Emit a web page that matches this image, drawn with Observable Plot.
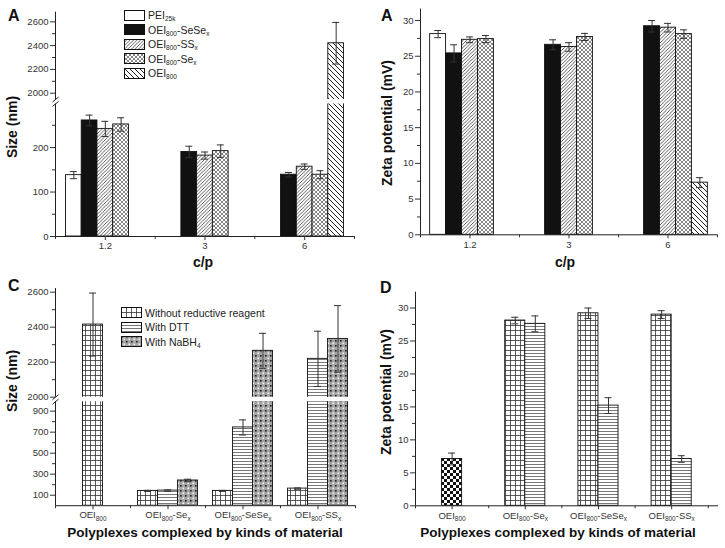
<!DOCTYPE html>
<html><head><meta charset="utf-8">
<script src="https://cdn.jsdelivr.net/npm/d3@7"></script>
<script src="https://cdn.jsdelivr.net/npm/@observablehq/plot@0.6"></script>
<style>
body{margin:0;background:#fff;}
#root{position:relative;width:725px;height:548px;overflow:hidden;font-family:"Liberation Sans",Arial,sans-serif;background:#fff;}
.panel{position:absolute;}
.letter{position:absolute;font-weight:bold;font-size:16px;line-height:1;color:#111;}
.ytitle{position:absolute;font-weight:bold;font-size:14px;line-height:1;color:#111;transform:translate(-50%,-50%) rotate(-90deg);white-space:nowrap;}
.xtitle{position:absolute;font-weight:bold;line-height:1;color:#111;transform:translate(-50%,-50%);white-space:nowrap;}
.legend{position:absolute;font-size:10.5px;color:#222;}
.legend .row{display:flex;align-items:center;height:14.5px;white-space:nowrap;}
.legend svg{margin-right:3px;flex:none;}
.legend sub{font-size:6.5px;vertical-align:-2px;line-height:0;}
</style>
</head><body>
<svg width="0" height="0" style="position:absolute">
<defs>
<pattern id="p-ss" patternUnits="userSpaceOnUse" width="3.5" height="3.5"><rect width="3.5" height="3.5" fill="#fff"/><path d="M-1,1 L1,-1 M0,3.5 L3.5,0 M2.5,4.5 L4.5,2.5" stroke="#333" stroke-width="0.8"/></pattern>
<pattern id="p-se" patternUnits="userSpaceOnUse" width="4" height="4"><rect width="4" height="4" fill="#fff"/><path d="M0,0 L4,4 M0,4 L4,0" stroke="#666" stroke-width="0.8"/></pattern>
<pattern id="p-oei" patternUnits="userSpaceOnUse" width="5" height="5"><rect width="5" height="5" fill="#fff"/><path d="M0,0 L5,5 M-1,4 L1,6 M4,-1 L6,1" stroke="#222" stroke-width="1"/></pattern>
<pattern id="p-grid" patternUnits="userSpaceOnUse" width="5" height="5"><rect width="5" height="5" fill="#fff"/><path d="M0,0.5 H5 M0.5,0 V5" stroke="#333" stroke-width="0.8"/></pattern>
<pattern id="p-hl" patternUnits="userSpaceOnUse" width="3" height="3"><rect width="3" height="3" fill="#fff"/><path d="M0,0.5 H3" stroke="#555" stroke-width="0.8"/></pattern>
<pattern id="p-nabh" patternUnits="userSpaceOnUse" width="5" height="5"><rect width="5" height="5" fill="#a4a4a4"/><rect width="1.6" height="1.6" fill="#222"/><rect x="2.5" y="2.5" width="1.6" height="1.6" fill="#f4f4f4"/></pattern>
<pattern id="p-check" patternUnits="userSpaceOnUse" width="6" height="6"><rect width="6" height="6" fill="#fff"/><rect width="3" height="3" fill="#111"/><rect x="3" y="3" width="3" height="3" fill="#111"/></pattern>
</defs>
</svg>
<div id="root"></div>
<script>
// ---------------- DATA ----------------
// Panels A & B: grouped by c/p ratio
const cpGroups = ["1.2", "3", "6"];
const seriesAB = ["PEI_25k", "OEI_800-SeSe_x", "OEI_800-SS_x", "OEI_800-Se_x", "OEI_800"];
// Panel A: particle size (nm); null = not measured
const sizeA_PEI25k = [138, null, null];
const sizeA_SeSe   = [261, 190, 139];
const sizeA_SS     = [242, 182, 157];
const sizeA_Se     = [252, 192, 139];
const sizeA_OEI800 = [null, null, 2420];
const errA_PEI25k  = [8, null, null];
const errA_SeSe    = [12, 13, 5];
const errA_SS      = [17, 8, 6];
const errA_Se      = [15, 14, 9];
const errA_OEI800  = [null, null, 175];
// Panel B: zeta potential (mV)
const zetaB_PEI25k = [28.1, null, null];
const zetaB_SeSe   = [25.4, 26.6, 29.2];
const zetaB_SS     = [27.3, 26.3, 29.0];
const zetaB_Se     = [27.4, 27.7, 28.1];
const zetaB_OEI800 = [null, null, 7.3];
const errB_PEI25k  = [0.5, null, null];
const errB_SeSe    = [1.2, 0.7, 0.8];
const errB_SS      = [0.4, 0.6, 0.6];
const errB_Se      = [0.5, 0.5, 0.6];
const errB_OEI800  = [null, null, 0.7];

// Panels C & D: grouped by material
const materials = ["OEI_800", "OEI_800-Se_x", "OEI_800-SeSe_x", "OEI_800-SS_x"];
const seriesCD = ["Without reductive reagent", "With DTT", "With NaBH_4", "OEI_800 control"];
// Panel C: size (nm)
const sizeC_without = [2415, 141, 141, 163];
const sizeC_DTT     = [null, 144, 745, 2219];
const sizeC_NaBH4   = [null, 240, 2265, 2333];
const errC_without  = [180, 5, 5, 6];
const errC_DTT      = [null, 6, 72, 158];
const errC_NaBH4    = [null, 12, 100, 190];
// Panel D: zeta potential (mV)
const zetaD_control = [7.1, null, null, null];
const zetaD_without = [null, 28.1, 29.2, 29.0];
const zetaD_DTT     = [null, 27.6, 15.2, 7.1];
const errD_control  = [0.9, null, null, null];
const errD_without  = [null, 0.5, 0.8, 0.6];
const errD_DTT      = [null, 1.2, 1.2, 0.5];

// Tick values
const ticksA = [0, 100, 200, 2000, 2200, 2400, 2600];
const minorA = [50, 150, 250, 2100, 2300, 2500];
const ticksB = [0, 5, 10, 15, 20, 25, 30];
const minorB = [2.5, 7.5, 12.5, 17.5, 22.5, 27.5];
const ticksC = [100, 300, 500, 700, 900, 2000, 2200, 2400, 2600];
const minorC = [200, 400, 600, 800, 2100, 2300, 2500];
const ticksD = [0, 5, 10, 15, 20, 25, 30];
const minorD = [2.5, 7.5, 12.5, 17.5, 22.5, 27.5];

// ---------------- STYLES ----------------
const fills = {
  "PEI_25k": "#ffffff",
  "OEI_800-SeSe_x": "#111111",
  "OEI_800-SS_x": "url(#p-ss)",
  "OEI_800-Se_x": "url(#p-se)",
  "OEI_800": "url(#p-oei)",
  "Without reductive reagent": "url(#p-grid)",
  "With DTT": "url(#p-hl)",
  "With NaBH_4": "url(#p-nabh)",
  "OEI_800 control": "url(#p-check)"
};
// axis-break mark "/" drawn as a custom dot symbol
const slashSymbol = {draw(ctx) { ctx.moveTo(-3, 2.5); ctx.lineTo(3, -2.5); }};

function makeRows(groups, series, values, errors) {
  const rows = [];
  groups.forEach((g, gi) => {
    series.forEach((s, si) => {
      const v = values[si] ? values[si][gi] : null;
      if (v == null) return;
      rows.push({g: gi, s: si, series: s, value: v, err: errors[si][gi]});
    });
  });
  return rows;
}
function layout(rows, nSlots, w, mode) {
  for (const [g, rs] of d3.group(rows, d => d.g)) {
    rs.forEach((r, k) => {
      const idx = mode === "slots" ? r.s : k;
      const n = mode === "slots" ? nSlots : rs.length;
      r.x1 = g + (idx - n / 2) * w;
      r.x2 = r.x1 + w;
      r.xc = (r.x1 + r.x2) / 2;
    });
  }
  return rows;
}

function subscriptify(svg) {
  d3.select(svg).selectAll("text").each(function() {
    const t = this.textContent;
    if (!t.includes("_")) return;
    const parts = t.split(/_([0-9A-Za-z]+)/);
    const sel = d3.select(this);
    sel.text(null);
    let shifted = false;
    parts.forEach((p, i) => {
      if (!p) return;
      const ts = sel.append("tspan").text(p);
      if (i % 2 === 1) { ts.attr("font-size", "6.5px").attr("dy", shifted ? 0 : 2.5); shifted = true; }
      else { if (shifted) ts.attr("dy", -2.5); shifted = false; }
    });
  });
}

// A panel may have several y segments (broken axis): each segment is its own Plot chart,
// stacked at the same place; bars are clipped to each segment's frame.
function panel(o) {
  const rows = o.rows;
  const x0 = o.xDomain[0];
  const nSeg = o.segments.length;
  o.segments.forEach((seg, i) => {
    const [lo, hi] = seg.domain;
    const [bottomPx, topPx] = seg.range;
    const inSeg = v => v >= lo && v <= hi;
    const bars = rows.filter(d => d.value > lo);
    const er = rows.filter(d => d.err && inSeg(d.value));
    const marks = [
      Plot.rect(bars, {x1: "x1", x2: "x2", y1: () => 0, y2: "value", fill: d => fills[d.series], stroke: "#111", strokeWidth: 0.9, clip: nSeg > 1}),
      Plot.ruleX(er, {x: "xc", y1: d => d.value - d.err, y2: d => d.value + d.err, stroke: "#333", strokeWidth: 1}),
      Plot.ruleY(er, {y: d => d.value + d.err, x1: d => d.xc - o.cap, x2: d => d.xc + o.cap, stroke: "#333", strokeWidth: 1}),
      Plot.ruleY(er, {y: d => d.value - d.err, x1: d => d.xc - o.cap, x2: d => d.xc + o.cap, stroke: "#333", strokeWidth: 1}),
      Plot.ruleX([x0], {y1: () => lo, y2: () => hi, stroke: "#222", strokeWidth: 1}),
      Plot.axisY({ticks: o.majorY.filter(inSeg), tickSize: 5, tickPadding: 2, tickFormat: d3.format("d"), label: null, fontSize: 9.5}),
      Plot.axisY({ticks: o.minorY.filter(inSeg), tickSize: 3, tickFormat: () => "", label: null})
    ];
    if (i === 0) {
      marks.push(
        Plot.ruleY([0], {stroke: "#222", strokeWidth: 1}),
        Plot.axisX({ticks: d3.range(o.labels.length), tickFormat: k => o.labels[k], tickSize: 4, tickPadding: 2, label: null, fontSize: 9.5}),
        Plot.axisX({ticks: d3.range(o.labels.length + 1).map(k => k - 0.5), tickSize: 3, tickFormat: () => "", label: null})
      );
    }
    const breaks = [];
    if (i < nSeg - 1) breaks.push(hi);
    if (i > 0) breaks.push(lo);
    if (breaks.length) marks.push(Plot.dot(breaks, {x: () => x0, y: d => d, symbol: slashSymbol, r: 3, fill: "none", stroke: "#222", strokeWidth: 1}));
    const svg = Plot.plot({
      width: o.width, height: o.height,
      marginLeft: o.marginLeft, marginRight: o.marginRight,
      marginTop: topPx, marginBottom: o.height - bottomPx,
      x: {domain: o.xDomain, axis: null},
      y: {domain: [lo, hi], axis: null},
      color: {type: "identity"},
      style: {fontFamily: '"Liberation Sans", Arial, sans-serif', fontSize: "9.5px", color: "#333", background: "transparent", overflow: "visible"},
      marks
    });
    subscriptify(svg);
    const holder = document.createElement("div");
    holder.className = "panel";
    holder.style.left = o.left + "px";
    holder.style.top = o.top + "px";
    holder.appendChild(svg);
    document.getElementById("root").appendChild(holder);
  });
}

function html(s) { return s.replace(/_([0-9A-Za-z]+)/g, "<sub>$1</sub>"); }
function addText(cls, text, x, y, extra) {
  const el = document.createElement("div");
  el.className = cls;
  el.innerHTML = html(text);
  el.style.left = x + "px";
  el.style.top = y + "px";
  if (extra) Object.assign(el.style, extra);
  document.getElementById("root").appendChild(el);
}
function legend(items, x, y) {
  const el = document.createElement("div");
  el.className = "legend";
  el.style.left = x + "px";
  el.style.top = y + "px";
  for (const it of items) {
    const row = document.createElement("div");
    row.className = "row";
    row.innerHTML = `<svg width="21" height="11"><rect x="0.5" y="0.5" width="20" height="10" fill="${fills[it]}" stroke="#111" stroke-width="1"/></svg><span>${html(it)}</span>`;
    el.appendChild(row);
  }
  document.getElementById("root").appendChild(el);
}

// ---------------- PANELS ----------------
const rowsA = layout(makeRows(cpGroups, seriesAB,
  [sizeA_PEI25k, sizeA_SeSe, sizeA_SS, sizeA_Se, sizeA_OEI800],
  [errA_PEI25k, errA_SeSe, errA_SS, errA_Se, errA_OEI800]), 5, 0.158, "slots");
panel({rows: rowsA, labels: cpGroups, left: 0, top: 0, width: 360, height: 275,
  marginLeft: 55, marginRight: 6, xDomain: [-0.5, 2.5],
  segments: [{domain: [0, 298], range: [236, 103.5]}, {domain: [1947, 2681], range: [99, 11.7]}],
  majorY: ticksA, minorY: minorA, cap: 0.035});

const rowsB = layout(makeRows(cpGroups, seriesAB,
  [zetaB_PEI25k, zetaB_SeSe, zetaB_SS, zetaB_Se, zetaB_OEI800],
  [errB_PEI25k, errB_SeSe, errB_SS, errB_Se, errB_OEI800]), 5, 0.161, "slots");
panel({rows: rowsB, labels: cpGroups, left: 360, top: 0, width: 365, height: 275,
  marginLeft: 60, marginRight: 8, xDomain: [-0.5, 2.5],
  segments: [{domain: [0, 31.6], range: [234.3, 8.6]}],
  majorY: ticksB, minorY: minorB, cap: 0.035});

const rowsC = layout(makeRows(materials, seriesCD,
  [sizeC_without, sizeC_DTT, sizeC_NaBH4, null],
  [errC_without, errC_DTT, errC_NaBH4, null]), 3, 0.267, "centered");
panel({rows: rowsC, labels: materials, left: 0, top: 275, width: 360, height: 273,
  marginLeft: 55, marginRight: 5, xDomain: [-0.5, 3.5],
  segments: [{domain: [0, 990], range: [230.2, 126.2]}, {domain: [2000, 2621], range: [121.7, 13]}],
  majorY: ticksC, minorY: minorC, cap: 0.047});

const rowsD = layout(makeRows(materials, seriesCD,
  [zetaD_without, zetaD_DTT, null, zetaD_control],
  [errD_without, errD_DTT, null, errD_control]), 2, 0.274, "centered");
panel({rows: rowsD, labels: materials, left: 360, top: 275, width: 365, height: 273,
  marginLeft: 55, marginRight: 7, xDomain: [-0.5, 3.64],
  segments: [{domain: [0, 32.4], range: [230.3, 16.7]}],
  majorY: ticksD, minorY: minorD, cap: 0.048});

// ---------------- TEXT ----------------
addText("letter", "A", 8, 8);
addText("letter", "A", 381, 8);
addText("letter", "C", 8, 278);
addText("letter", "D", 380, 280);
addText("ytitle", "Size (nm)", 12, 127);
addText("ytitle", "Zeta potential (mV)", 387, 123);
addText("ytitle", "Size (nm)", 12, 381);
addText("ytitle", "Zeta potential (mV)", 386, 392);
addText("xtitle", "c/p", 203, 262, {fontSize: "14px"});
addText("xtitle", "c/p", 565, 262, {fontSize: "14px"});
addText("xtitle", "Polyplexes complexed by kinds of material", 205, 533, {fontSize: "13.5px"});
addText("xtitle", "Polyplexes complexed by kinds of material", 558, 533, {fontSize: "13.5px"});
legend(seriesAB, 124, 8);
legend(seriesCD.slice(0, 3), 121, 305.5);
</script>
</body></html>
